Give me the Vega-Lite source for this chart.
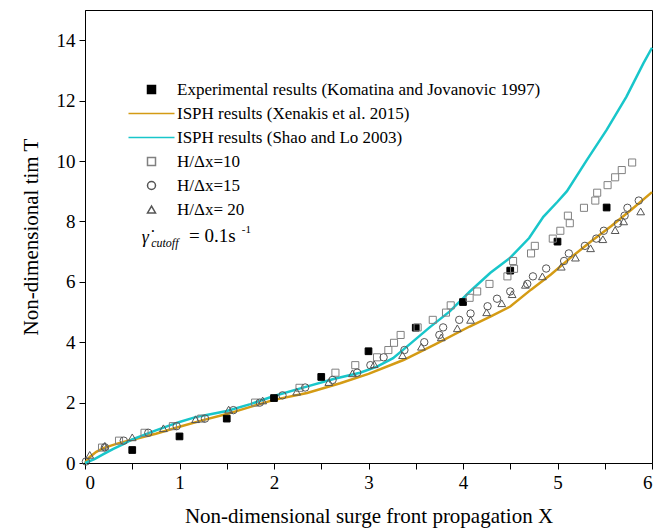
{
  "$schema": "https://vega.github.io/schema/vega-lite/v6.json",
  "width": 567,
  "height": 453,
  "autosize": {"type": "none"},
  "padding": {"left": 85, "top": 10, "right": 2, "bottom": 69},
  "background": "white",
  "config": {
    "font": "Liberation Serif",
    "view": {"stroke": "black", "strokeWidth": 1},
    "axis": {"grid": false, "domainColor": "black", "tickColor": "black", "labelColor": "black", "titleColor": "black", "labelFont": "Liberation Serif", "titleFont": "Liberation Serif", "titleFontWeight": "normal", "labelOverlap": false}
  },
  "datasets": {
    "lines": [
      {"series": "ISPH results (Xenakis et al. 2015)", "x": 0, "y": 0},
      {"series": "ISPH results (Xenakis et al. 2015)", "x": 0.05, "y": 0.2},
      {"series": "ISPH results (Xenakis et al. 2015)", "x": 0.12, "y": 0.37},
      {"series": "ISPH results (Xenakis et al. 2015)", "x": 0.2, "y": 0.5},
      {"series": "ISPH results (Xenakis et al. 2015)", "x": 0.35, "y": 0.65},
      {"series": "ISPH results (Xenakis et al. 2015)", "x": 0.5, "y": 0.77},
      {"series": "ISPH results (Xenakis et al. 2015)", "x": 0.75, "y": 0.97},
      {"series": "ISPH results (Xenakis et al. 2015)", "x": 1.0, "y": 1.2},
      {"series": "ISPH results (Xenakis et al. 2015)", "x": 1.25, "y": 1.42},
      {"series": "ISPH results (Xenakis et al. 2015)", "x": 1.5, "y": 1.62},
      {"series": "ISPH results (Xenakis et al. 2015)", "x": 1.75, "y": 1.86},
      {"series": "ISPH results (Xenakis et al. 2015)", "x": 2.0, "y": 2.09},
      {"series": "ISPH results (Xenakis et al. 2015)", "x": 2.35, "y": 2.32},
      {"series": "ISPH results (Xenakis et al. 2015)", "x": 2.7, "y": 2.64},
      {"series": "ISPH results (Xenakis et al. 2015)", "x": 3.0, "y": 2.95},
      {"series": "ISPH results (Xenakis et al. 2015)", "x": 3.37, "y": 3.41},
      {"series": "ISPH results (Xenakis et al. 2015)", "x": 3.7, "y": 3.92},
      {"series": "ISPH results (Xenakis et al. 2015)", "x": 4.07, "y": 4.52},
      {"series": "ISPH results (Xenakis et al. 2015)", "x": 4.3, "y": 4.86},
      {"series": "ISPH results (Xenakis et al. 2015)", "x": 4.5, "y": 5.18},
      {"series": "ISPH results (Xenakis et al. 2015)", "x": 4.72, "y": 5.74},
      {"series": "ISPH results (Xenakis et al. 2015)", "x": 4.93, "y": 6.24},
      {"series": "ISPH results (Xenakis et al. 2015)", "x": 5.14, "y": 6.8},
      {"series": "ISPH results (Xenakis et al. 2015)", "x": 5.36, "y": 7.35},
      {"series": "ISPH results (Xenakis et al. 2015)", "x": 5.57, "y": 7.85},
      {"series": "ISPH results (Xenakis et al. 2015)", "x": 5.79, "y": 8.41},
      {"series": "ISPH results (Xenakis et al. 2015)", "x": 6.0, "y": 8.97},
      {"series": "ISPH results (Shao and Lo 2003)", "x": 0, "y": 0},
      {"series": "ISPH results (Shao and Lo 2003)", "x": 0.1, "y": 0.13},
      {"series": "ISPH results (Shao and Lo 2003)", "x": 0.2, "y": 0.3},
      {"series": "ISPH results (Shao and Lo 2003)", "x": 0.3, "y": 0.47},
      {"series": "ISPH results (Shao and Lo 2003)", "x": 0.4, "y": 0.62},
      {"series": "ISPH results (Shao and Lo 2003)", "x": 0.5, "y": 0.78},
      {"series": "ISPH results (Shao and Lo 2003)", "x": 0.75, "y": 1.08},
      {"series": "ISPH results (Shao and Lo 2003)", "x": 1.0, "y": 1.36},
      {"series": "ISPH results (Shao and Lo 2003)", "x": 1.17, "y": 1.52},
      {"series": "ISPH results (Shao and Lo 2003)", "x": 1.3, "y": 1.6},
      {"series": "ISPH results (Shao and Lo 2003)", "x": 1.5, "y": 1.72},
      {"series": "ISPH results (Shao and Lo 2003)", "x": 1.75, "y": 1.95},
      {"series": "ISPH results (Shao and Lo 2003)", "x": 2.0, "y": 2.22},
      {"series": "ISPH results (Shao and Lo 2003)", "x": 2.28, "y": 2.47},
      {"series": "ISPH results (Shao and Lo 2003)", "x": 2.63, "y": 2.78},
      {"series": "ISPH results (Shao and Lo 2003)", "x": 2.91, "y": 2.99},
      {"series": "ISPH results (Shao and Lo 2003)", "x": 3.09, "y": 3.19},
      {"series": "ISPH results (Shao and Lo 2003)", "x": 3.26, "y": 3.47},
      {"series": "ISPH results (Shao and Lo 2003)", "x": 3.45, "y": 3.97},
      {"series": "ISPH results (Shao and Lo 2003)", "x": 3.65, "y": 4.5},
      {"series": "ISPH results (Shao and Lo 2003)", "x": 3.86, "y": 5.02},
      {"series": "ISPH results (Shao and Lo 2003)", "x": 4.07, "y": 5.67},
      {"series": "ISPH results (Shao and Lo 2003)", "x": 4.29, "y": 6.3},
      {"series": "ISPH results (Shao and Lo 2003)", "x": 4.5, "y": 6.8},
      {"series": "ISPH results (Shao and Lo 2003)", "x": 4.7, "y": 7.45},
      {"series": "ISPH results (Shao and Lo 2003)", "x": 4.85, "y": 8.15},
      {"series": "ISPH results (Shao and Lo 2003)", "x": 5.0, "y": 8.65},
      {"series": "ISPH results (Shao and Lo 2003)", "x": 5.1, "y": 9.0},
      {"series": "ISPH results (Shao and Lo 2003)", "x": 5.31, "y": 10.03},
      {"series": "ISPH results (Shao and Lo 2003)", "x": 5.52, "y": 11.03},
      {"series": "ISPH results (Shao and Lo 2003)", "x": 5.73, "y": 12.13},
      {"series": "ISPH results (Shao and Lo 2003)", "x": 5.91, "y": 13.24},
      {"series": "ISPH results (Shao and Lo 2003)", "x": 6.0, "y": 13.75}
    ],
    "points": [
      {"series": "Experimental results (Komatina and Jovanovic 1997)", "x": 0.5, "y": 0.43},
      {"series": "Experimental results (Komatina and Jovanovic 1997)", "x": 1.0, "y": 0.88},
      {"series": "Experimental results (Komatina and Jovanovic 1997)", "x": 1.5, "y": 1.47},
      {"series": "Experimental results (Komatina and Jovanovic 1997)", "x": 2.0, "y": 2.15},
      {"series": "Experimental results (Komatina and Jovanovic 1997)", "x": 2.5, "y": 2.85},
      {"series": "Experimental results (Komatina and Jovanovic 1997)", "x": 3.0, "y": 3.7},
      {"series": "Experimental results (Komatina and Jovanovic 1997)", "x": 3.5, "y": 4.48},
      {"series": "Experimental results (Komatina and Jovanovic 1997)", "x": 4.0, "y": 5.33},
      {"series": "Experimental results (Komatina and Jovanovic 1997)", "x": 4.5, "y": 6.37},
      {"series": "Experimental results (Komatina and Jovanovic 1997)", "x": 5.0, "y": 7.33},
      {"series": "Experimental results (Komatina and Jovanovic 1997)", "x": 5.52, "y": 8.46},
      {"series": "H/Δx=10", "x": 0.18, "y": 0.51},
      {"series": "H/Δx=10", "x": 0.36, "y": 0.74},
      {"series": "H/Δx=10", "x": 0.63, "y": 1.0},
      {"series": "H/Δx=10", "x": 0.93, "y": 1.22},
      {"series": "H/Δx=10", "x": 1.23, "y": 1.47},
      {"series": "H/Δx=10", "x": 1.8, "y": 2.0},
      {"series": "H/Δx=10", "x": 2.27, "y": 2.49},
      {"series": "H/Δx=10", "x": 2.65, "y": 2.99},
      {"series": "H/Δx=10", "x": 2.86, "y": 3.24},
      {"series": "H/Δx=10", "x": 3.09, "y": 3.5},
      {"series": "H/Δx=10", "x": 3.21, "y": 3.74},
      {"series": "H/Δx=10", "x": 3.27, "y": 3.98},
      {"series": "H/Δx=10", "x": 3.34, "y": 4.24},
      {"series": "H/Δx=10", "x": 3.52, "y": 4.49},
      {"series": "H/Δx=10", "x": 3.68, "y": 4.74},
      {"series": "H/Δx=10", "x": 3.82, "y": 4.98},
      {"series": "H/Δx=10", "x": 3.87, "y": 5.22},
      {"series": "H/Δx=10", "x": 4.07, "y": 5.47},
      {"series": "H/Δx=10", "x": 4.15, "y": 5.68},
      {"series": "H/Δx=10", "x": 4.28, "y": 5.93},
      {"series": "H/Δx=10", "x": 4.47, "y": 6.18},
      {"series": "H/Δx=10", "x": 4.54, "y": 6.43},
      {"series": "H/Δx=10", "x": 4.53, "y": 6.69},
      {"series": "H/Δx=10", "x": 4.72, "y": 6.94},
      {"series": "H/Δx=10", "x": 4.76, "y": 7.19},
      {"series": "H/Δx=10", "x": 4.95, "y": 7.43},
      {"series": "H/Δx=10", "x": 5.03, "y": 7.69},
      {"series": "H/Δx=10", "x": 5.13, "y": 7.94},
      {"series": "H/Δx=10", "x": 5.11, "y": 8.19},
      {"series": "H/Δx=10", "x": 5.28, "y": 8.45},
      {"series": "H/Δx=10", "x": 5.4, "y": 8.69},
      {"series": "H/Δx=10", "x": 5.42, "y": 8.95},
      {"series": "H/Δx=10", "x": 5.53, "y": 9.2},
      {"series": "H/Δx=10", "x": 5.61, "y": 9.46},
      {"series": "H/Δx=10", "x": 5.68, "y": 9.7},
      {"series": "H/Δx=10", "x": 5.79, "y": 9.95},
      {"series": "H/Δx=15", "x": 0.01, "y": 0.05},
      {"series": "H/Δx=15", "x": 0.21, "y": 0.52},
      {"series": "H/Δx=15", "x": 0.41, "y": 0.74},
      {"series": "H/Δx=15", "x": 0.67, "y": 1.0},
      {"series": "H/Δx=15", "x": 0.97, "y": 1.22},
      {"series": "H/Δx=15", "x": 1.27, "y": 1.47},
      {"series": "H/Δx=15", "x": 1.57, "y": 1.75},
      {"series": "H/Δx=15", "x": 1.85, "y": 2.0},
      {"series": "H/Δx=15", "x": 2.09, "y": 2.24},
      {"series": "H/Δx=15", "x": 2.33, "y": 2.5},
      {"series": "H/Δx=15", "x": 2.62, "y": 2.75},
      {"series": "H/Δx=15", "x": 2.88, "y": 2.99},
      {"series": "H/Δx=15", "x": 3.02, "y": 3.24},
      {"series": "H/Δx=15", "x": 3.16, "y": 3.5},
      {"series": "H/Δx=15", "x": 3.38, "y": 3.74},
      {"series": "H/Δx=15", "x": 3.59, "y": 4.0},
      {"series": "H/Δx=15", "x": 3.75, "y": 4.24},
      {"series": "H/Δx=15", "x": 3.79, "y": 4.49},
      {"series": "H/Δx=15", "x": 3.96, "y": 4.74},
      {"series": "H/Δx=15", "x": 4.08, "y": 4.95},
      {"series": "H/Δx=15", "x": 4.26, "y": 5.19},
      {"series": "H/Δx=15", "x": 4.36, "y": 5.44},
      {"series": "H/Δx=15", "x": 4.5, "y": 5.68},
      {"series": "H/Δx=15", "x": 4.68, "y": 5.93},
      {"series": "H/Δx=15", "x": 4.74, "y": 6.18},
      {"series": "H/Δx=15", "x": 4.88, "y": 6.44},
      {"series": "H/Δx=15", "x": 5.07, "y": 6.69},
      {"series": "H/Δx=15", "x": 5.12, "y": 6.94},
      {"series": "H/Δx=15", "x": 5.29, "y": 7.19},
      {"series": "H/Δx=15", "x": 5.41, "y": 7.43},
      {"series": "H/Δx=15", "x": 5.49, "y": 7.69},
      {"series": "H/Δx=15", "x": 5.64, "y": 7.93},
      {"series": "H/Δx=15", "x": 5.71, "y": 8.19},
      {"series": "H/Δx=15", "x": 5.74, "y": 8.45},
      {"series": "H/Δx=15", "x": 5.86, "y": 8.69},
      {"series": "H/Δx= 20", "x": 0.05, "y": 0.27},
      {"series": "H/Δx= 20", "x": 0.21, "y": 0.57},
      {"series": "H/Δx= 20", "x": 0.5, "y": 0.85},
      {"series": "H/Δx= 20", "x": 0.83, "y": 1.15},
      {"series": "H/Δx= 20", "x": 1.17, "y": 1.45},
      {"series": "H/Δx= 20", "x": 1.52, "y": 1.77},
      {"series": "H/Δx= 20", "x": 1.88, "y": 2.07},
      {"series": "H/Δx= 20", "x": 2.24, "y": 2.36},
      {"series": "H/Δx= 20", "x": 2.58, "y": 2.68},
      {"series": "H/Δx= 20", "x": 2.83, "y": 2.97},
      {"series": "H/Δx= 20", "x": 3.06, "y": 3.27},
      {"series": "H/Δx= 20", "x": 3.36, "y": 3.57},
      {"series": "H/Δx= 20", "x": 3.56, "y": 3.85},
      {"series": "H/Δx= 20", "x": 3.77, "y": 4.16},
      {"series": "H/Δx= 20", "x": 3.94, "y": 4.46},
      {"series": "H/Δx= 20", "x": 4.08, "y": 4.74},
      {"series": "H/Δx= 20", "x": 4.25, "y": 4.99},
      {"series": "H/Δx= 20", "x": 4.41, "y": 5.29},
      {"series": "H/Δx= 20", "x": 4.52, "y": 5.59},
      {"series": "H/Δx= 20", "x": 4.66, "y": 5.9},
      {"series": "H/Δx= 20", "x": 4.84, "y": 6.18},
      {"series": "H/Δx= 20", "x": 5.04, "y": 6.5},
      {"series": "H/Δx= 20", "x": 5.19, "y": 6.8},
      {"series": "H/Δx= 20", "x": 5.35, "y": 7.11},
      {"series": "H/Δx= 20", "x": 5.48, "y": 7.41},
      {"series": "H/Δx= 20", "x": 5.61, "y": 7.71},
      {"series": "H/Δx= 20", "x": 5.7, "y": 8.0},
      {"series": "H/Δx= 20", "x": 5.88, "y": 8.33}
    ]
  },
  "layer": [
    {
      "data": {"name": "lines"},
      "mark": {"type": "line", "strokeWidth": 2.5},
      "encoding": {
        "x": {
          "field": "x", "type": "quantitative",
          "scale": {"domain": [0, 6], "nice": false, "zero": false},
          "axis": {
            "orient": "bottom",
            "values": [0, 0.5, 1, 1.5, 2, 2.5, 3, 3.5, 4, 4.5, 5, 5.5, 6],
            "labelExpr": "datum.value % 1 === 0 ? format(datum.value, 'd') : ''",
            "tickSize": 6,
            "labelPadding": 4,
            "labelFontSize": 19,
            "title": "Non-dimensional surge front propagation X",
            "titleFontSize": 21,
            "titlePadding": 13
          }
        },
        "y": {
          "field": "y", "type": "quantitative",
          "scale": {"domain": [0, 15], "nice": false, "zero": false},
          "axis": {
            "orient": "left",
            "values": [0, 1, 2, 3, 4, 5, 6, 7, 8, 9, 10, 11, 12, 13, 14, 15],
            "labelExpr": "datum.value % 2 === 0 ? format(datum.value, 'd') : ''",
            "tickSize": 6,
            "labelPadding": 4,
            "labelFontSize": 19,
            "title": "Non-dimensional tim  T",
            "titleFontSize": 21,
            "titlePadding": 15
          }
        },
        "stroke": {
          "field": "series", "type": "nominal",
          "scale": {
            "domain": ["Experimental results (Komatina and Jovanovic 1997)", "ISPH results (Xenakis et al. 2015)", "ISPH results (Shao and Lo 2003)", "H/Δx=10", "H/Δx=15", "H/Δx= 20"],
            "range": ["#000000", "#D49B14", "#18C6CA", "#808080", "#555555", "#555555"]
          },
          "legend": {
            "orient": "none",
            "legendX": 58,
            "legendY": 71,
            "title": null,
            "padding": 0,
            "labelFont": "Liberation Serif",
            "labelFontSize": 17,
            "labelColor": "black",
            "labelLimit": 500,
            "labelOffset": 17,
            "rowPadding": 6,
            "symbolSize": 64,
            "symbolStrokeWidth": 1.5
          }
        }
      }
    },
    {
      "data": {"name": "points"},
      "mark": {"type": "point", "strokeWidth": 1, "opacity": 1},
      "encoding": {
        "x": {"field": "x", "type": "quantitative"},
        "y": {"field": "y", "type": "quantitative"},
        "stroke": {"field": "series", "type": "nominal"},
        "shape": {
          "field": "series", "type": "nominal",
          "scale": {"domain": ["Experimental results (Komatina and Jovanovic 1997)", "ISPH results (Xenakis et al. 2015)", "ISPH results (Shao and Lo 2003)", "H/Δx=10", "H/Δx=15", "H/Δx= 20"], "range": ["square", "M-5.75,0H5.75", "M-5.75,0H5.75", "square", "circle", "triangle-up"]},
          "legend": {"title": null}
        },
        "fill": {
          "field": "series", "type": "nominal",
          "scale": {"domain": ["Experimental results (Komatina and Jovanovic 1997)", "ISPH results (Xenakis et al. 2015)", "ISPH results (Shao and Lo 2003)", "H/Δx=10", "H/Δx=15", "H/Δx= 20"], "range": ["#000000", "transparent", "transparent", "transparent", "transparent", "transparent"]},
          "legend": {"title": null}
        },
        "size": {
          "field": "series", "type": "nominal",
          "scale": {"domain": ["Experimental results (Komatina and Jovanovic 1997)", "H/Δx=10", "H/Δx=15", "H/Δx= 20"], "range": [45, 60, 64, 60]},
          "legend": null
        }
      }
    },
    {
      "data": {"values": [{"x": 0.6, "y": 7.28, "t": "γ̇"}]},
      "mark": {"type": "text", "align": "left", "baseline": "alphabetic", "font": "Liberation Serif", "fontSize": 18, "fontStyle": "italic", "color": "black"},
      "encoding": {"x": {"field": "x", "type": "quantitative"}, "y": {"field": "y", "type": "quantitative"}, "text": {"field": "t"}}
    },
    {
      "data": {"values": [{"x": 0.7, "y": 7.15, "t": "cutoff"}]},
      "mark": {"type": "text", "align": "left", "baseline": "alphabetic", "font": "Liberation Serif", "fontSize": 12, "fontStyle": "italic", "color": "black"},
      "encoding": {"x": {"field": "x", "type": "quantitative"}, "y": {"field": "y", "type": "quantitative"}, "text": {"field": "t"}}
    },
    {
      "data": {"values": [{"x": 1.1, "y": 7.32, "t": "= 0.1s"}]},
      "mark": {"type": "text", "align": "left", "baseline": "alphabetic", "font": "Liberation Serif", "fontSize": 19, "color": "black"},
      "encoding": {"x": {"field": "x", "type": "quantitative"}, "y": {"field": "y", "type": "quantitative"}, "text": {"field": "t"}}
    },
    {
      "data": {"values": [{"x": 1.66, "y": 7.62, "t": "-1"}]},
      "mark": {"type": "text", "align": "left", "baseline": "alphabetic", "font": "Liberation Serif", "fontSize": 11, "color": "black"},
      "encoding": {"x": {"field": "x", "type": "quantitative"}, "y": {"field": "y", "type": "quantitative"}, "text": {"field": "t"}}
    }
  ]
}
